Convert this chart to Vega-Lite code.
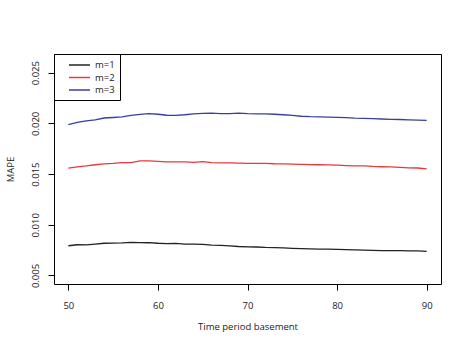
{
  "$schema": "https://vega.github.io/schema/vega-lite/v6.json",
  "autosize": {"type": "none"},
  "padding": {"left": 54, "top": 54, "right": 28, "bottom": 68},
  "width": 387,
  "height": 230,
  "background": "white",
  "config": {
    "view": {"stroke": "black", "strokeWidth": 1},
    "font": "Open Sans",
    "axis": {"grid": false, "domain": false, "tickColor": "black", "tickSize": 6, "labelColor": "#222", "titleColor": "#222", "labelFont": "Open Sans", "titleFont": "Open Sans", "labelFontSize": 9.5, "titleFontSize": 9.5, "titleFontWeight": "normal"}
  },
  "data": {"values": [
    {"t":50,"m":"m=1","v":0.00793},{"t":51,"m":"m=1","v":0.00803},{"t":52,"m":"m=1","v":0.00802},{"t":53,"m":"m=1","v":0.00810},{"t":54,"m":"m=1","v":0.00818},{"t":55,"m":"m=1","v":0.00820},{"t":56,"m":"m=1","v":0.00822},{"t":57,"m":"m=1","v":0.00826},{"t":58,"m":"m=1","v":0.00824},{"t":59,"m":"m=1","v":0.00823},{"t":60,"m":"m=1","v":0.00818},{"t":61,"m":"m=1","v":0.00815},{"t":62,"m":"m=1","v":0.00816},{"t":63,"m":"m=1","v":0.00810},{"t":64,"m":"m=1","v":0.00810},{"t":65,"m":"m=1","v":0.00806},{"t":66,"m":"m=1","v":0.00800},{"t":67,"m":"m=1","v":0.00796},{"t":68,"m":"m=1","v":0.00792},{"t":69,"m":"m=1","v":0.00786},{"t":70,"m":"m=1","v":0.00783},{"t":71,"m":"m=1","v":0.00781},{"t":72,"m":"m=1","v":0.00777},{"t":73,"m":"m=1","v":0.00775},{"t":74,"m":"m=1","v":0.00772},{"t":75,"m":"m=1","v":0.00768},{"t":76,"m":"m=1","v":0.00765},{"t":77,"m":"m=1","v":0.00762},{"t":78,"m":"m=1","v":0.00760},{"t":79,"m":"m=1","v":0.00759},{"t":80,"m":"m=1","v":0.00757},{"t":81,"m":"m=1","v":0.00755},{"t":82,"m":"m=1","v":0.00752},{"t":83,"m":"m=1","v":0.00750},{"t":84,"m":"m=1","v":0.00748},{"t":85,"m":"m=1","v":0.00746},{"t":86,"m":"m=1","v":0.00745},{"t":87,"m":"m=1","v":0.00745},{"t":88,"m":"m=1","v":0.00743},{"t":89,"m":"m=1","v":0.00742},{"t":90,"m":"m=1","v":0.00737},
    {"t":50,"m":"m=2","v":0.01559},{"t":51,"m":"m=2","v":0.01570},{"t":52,"m":"m=2","v":0.01580},{"t":53,"m":"m=2","v":0.01592},{"t":54,"m":"m=2","v":0.01600},{"t":55,"m":"m=2","v":0.01605},{"t":56,"m":"m=2","v":0.01612},{"t":57,"m":"m=2","v":0.01613},{"t":58,"m":"m=2","v":0.01630},{"t":59,"m":"m=2","v":0.01630},{"t":60,"m":"m=2","v":0.01625},{"t":61,"m":"m=2","v":0.01620},{"t":62,"m":"m=2","v":0.01620},{"t":63,"m":"m=2","v":0.01620},{"t":64,"m":"m=2","v":0.01615},{"t":65,"m":"m=2","v":0.01623},{"t":66,"m":"m=2","v":0.01612},{"t":67,"m":"m=2","v":0.01610},{"t":68,"m":"m=2","v":0.01610},{"t":69,"m":"m=2","v":0.01608},{"t":70,"m":"m=2","v":0.01605},{"t":71,"m":"m=2","v":0.01605},{"t":72,"m":"m=2","v":0.01606},{"t":73,"m":"m=2","v":0.01602},{"t":74,"m":"m=2","v":0.01600},{"t":75,"m":"m=2","v":0.01598},{"t":76,"m":"m=2","v":0.01596},{"t":77,"m":"m=2","v":0.01594},{"t":78,"m":"m=2","v":0.01592},{"t":79,"m":"m=2","v":0.01590},{"t":80,"m":"m=2","v":0.01588},{"t":81,"m":"m=2","v":0.01584},{"t":82,"m":"m=2","v":0.01580},{"t":83,"m":"m=2","v":0.01580},{"t":84,"m":"m=2","v":0.01575},{"t":85,"m":"m=2","v":0.01572},{"t":86,"m":"m=2","v":0.01570},{"t":87,"m":"m=2","v":0.01566},{"t":88,"m":"m=2","v":0.01562},{"t":89,"m":"m=2","v":0.01560},{"t":90,"m":"m=2","v":0.01552},
    {"t":50,"m":"m=3","v":0.01987},{"t":51,"m":"m=3","v":0.02010},{"t":52,"m":"m=3","v":0.02025},{"t":53,"m":"m=3","v":0.02035},{"t":54,"m":"m=3","v":0.02053},{"t":55,"m":"m=3","v":0.02058},{"t":56,"m":"m=3","v":0.02063},{"t":57,"m":"m=3","v":0.02078},{"t":58,"m":"m=3","v":0.02088},{"t":59,"m":"m=3","v":0.02096},{"t":60,"m":"m=3","v":0.02090},{"t":61,"m":"m=3","v":0.02080},{"t":62,"m":"m=3","v":0.02078},{"t":63,"m":"m=3","v":0.02085},{"t":64,"m":"m=3","v":0.02094},{"t":65,"m":"m=3","v":0.02099},{"t":66,"m":"m=3","v":0.02100},{"t":67,"m":"m=3","v":0.02096},{"t":68,"m":"m=3","v":0.02097},{"t":69,"m":"m=3","v":0.02100},{"t":70,"m":"m=3","v":0.02096},{"t":71,"m":"m=3","v":0.02094},{"t":72,"m":"m=3","v":0.02093},{"t":73,"m":"m=3","v":0.02090},{"t":74,"m":"m=3","v":0.02085},{"t":75,"m":"m=3","v":0.02078},{"t":76,"m":"m=3","v":0.02070},{"t":77,"m":"m=3","v":0.02066},{"t":78,"m":"m=3","v":0.02064},{"t":79,"m":"m=3","v":0.02062},{"t":80,"m":"m=3","v":0.02060},{"t":81,"m":"m=3","v":0.02056},{"t":82,"m":"m=3","v":0.02052},{"t":83,"m":"m=3","v":0.02050},{"t":84,"m":"m=3","v":0.02046},{"t":85,"m":"m=3","v":0.02043},{"t":86,"m":"m=3","v":0.02040},{"t":87,"m":"m=3","v":0.02038},{"t":88,"m":"m=3","v":0.02035},{"t":89,"m":"m=3","v":0.02032},{"t":90,"m":"m=3","v":0.02030}
  ]},
  "mark": {"type": "line", "strokeWidth": 1.3},
  "encoding": {
    "x": {"field": "t", "type": "quantitative", "title": "Time period basement",
      "scale": {"domain": [48.4, 91.6], "nice": false, "zero": false},
      "axis": {"values": [50, 60, 70, 80, 90], "labelPadding": 10, "titlePadding": 12}},
    "y": {"field": "v", "type": "quantitative", "title": "MAPE",
      "scale": {"domain": [0.00416, 0.02684], "nice": false, "zero": false},
      "axis": {"values": [0.005, 0.01, 0.015, 0.02, 0.025], "format": ".3f", "labelAngle": -90, "labelAlign": "center", "labelBaseline": "bottom", "labelPadding": 8, "titlePadding": 15}},
    "color": {"field": "m", "type": "nominal",
      "scale": {"domain": ["m=1", "m=2", "m=3"], "range": ["#222222", "#e8383d", "#3a3ea0"]},
      "legend": {"title": null, "orient": "top-left", "offset": 0, "strokeColor": "black", "fillColor": "white", "padding": 5, "symbolType": "M0.8,0H5", "symbolSize": 100, "symbolStrokeWidth": 1.5, "labelFontSize": 9.5, "labelFont": "Open Sans", "labelColor": "#222", "rowPadding": 1.5, "labelOffset": 24, "labelLimit": 100}}
  }
}
